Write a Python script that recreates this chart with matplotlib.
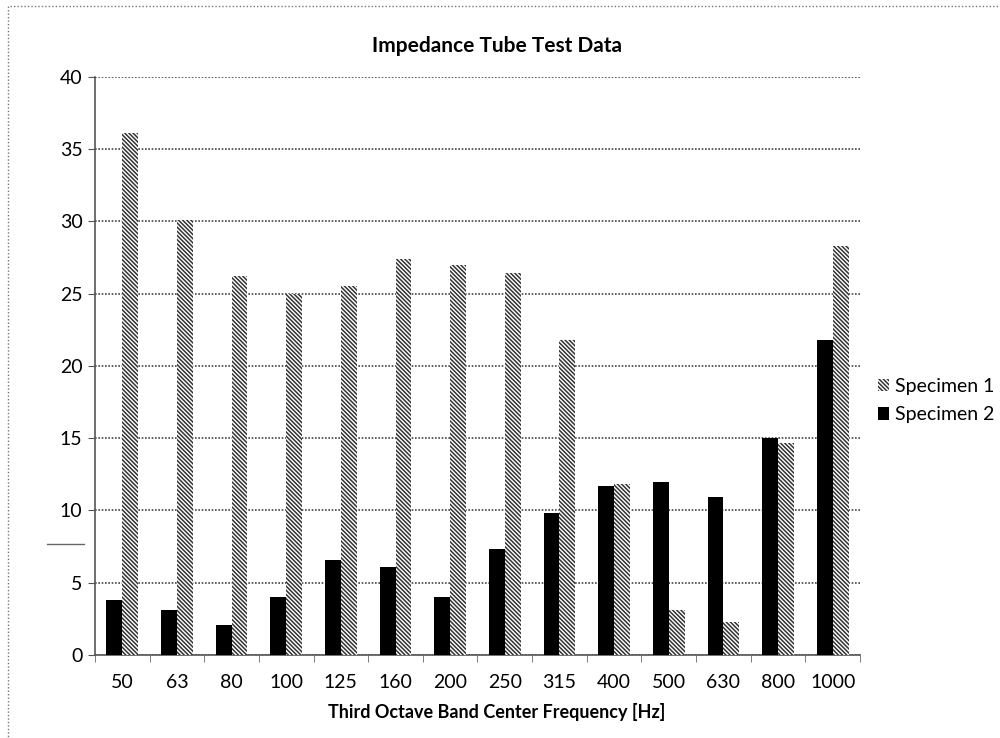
import matplotlib.pyplot as plt
import numpy as np
from matplotlib.lines import Line2D
from matplotlib.patches import Rectangle

plt.rcParams['font.family'] = ['Lato', 'DejaVu Sans']
plt.rcParams['hatch.linewidth'] = 1.1

freqs = ['50', '63', '80', '100', '125', '160', '200', '250', '315', '400', '500', '630', '800', '1000']
spec1 = [36.1, 30.1, 26.2, 25.0, 25.5, 27.4, 27.0, 26.4, 21.8, 11.8, 3.1, 2.3, 14.7, 28.3]
spec2 = [3.8, 3.1, 2.1, 4.0, 6.6, 6.1, 4.0, 7.3, 9.8, 11.7, 12.0, 10.9, 15.0, 21.8]

fig = plt.figure(figsize=(10, 7.38), dpi=100)
ax = fig.add_axes([0.095, 0.1125, 0.765, 0.7832])

x = np.arange(len(freqs))
w = 0.29
ax.bar(x - w / 2, spec2, w, color='black', label='Specimen 2', zorder=3)
ax.bar(x + w / 2, spec1, w, color='white', edgecolor='#333333', hatch='\\' * 8,
       linewidth=0, label='Specimen 1', zorder=3)

ax.set_xlim(-0.5, len(freqs) - 0.5)
ax.set_ylim(0, 40)
ax.set_yticks(range(0, 41, 5))
ax.set_xticks(x)
ax.set_xticklabels(freqs)
ax.set_xticks(np.arange(-0.5, len(freqs)), minor=True)
ax.tick_params(axis='x', which='major', length=0, pad=14, labelsize=14)
ax.tick_params(axis='x', which='minor', length=5, color='#666666')
ax.tick_params(axis='y', length=5, color='#555555', labelsize=14, pad=4)

ax.grid(axis='y', color='#444444', linestyle=(0, (1, 1)), linewidth=1.2, zorder=0)
for s in ['top', 'right']:
    ax.spines[s].set_visible(False)
for s in ['left', 'bottom']:
    ax.spines[s].set_color('#555555')
    ax.spines[s].set_linestyle((0, (1, 1)))
    ax.spines[s].set_linewidth(1.2)

ax.set_title('Impedance Tube Test Data', fontsize=15, fontweight='bold', pad=18, x=0.525)
ax.set_xlabel('Third Octave Band Center Frequency [Hz]', fontsize=13, fontweight='bold',
              labelpad=8, x=0.525)

h, l = ax.get_legend_handles_labels()
ax.legend([h[1], h[0]], [l[1], l[0]], loc='center left', bbox_to_anchor=(1.0, 0.44),
          frameon=False, fontsize=14, handlelength=0.6, handleheight=0.6,
          handletextpad=0.3, labelspacing=0.6)

# dotted outer border
fig.patches.append(Rectangle((0.008, -0.01), 1.2, 1.0 - 0.006 + 0.01 - 0.002,
                             transform=fig.transFigure, fill=False,
                             edgecolor='#777777', linestyle=(0, (1, 1.5)), linewidth=1))
fig.lines.append(Line2D([0.047, 0.084], [1 - 544 / 738, 1 - 544 / 738],
                        transform=fig.transFigure, color='#666666', linewidth=1))

fig.savefig('out.png', dpi=100)
